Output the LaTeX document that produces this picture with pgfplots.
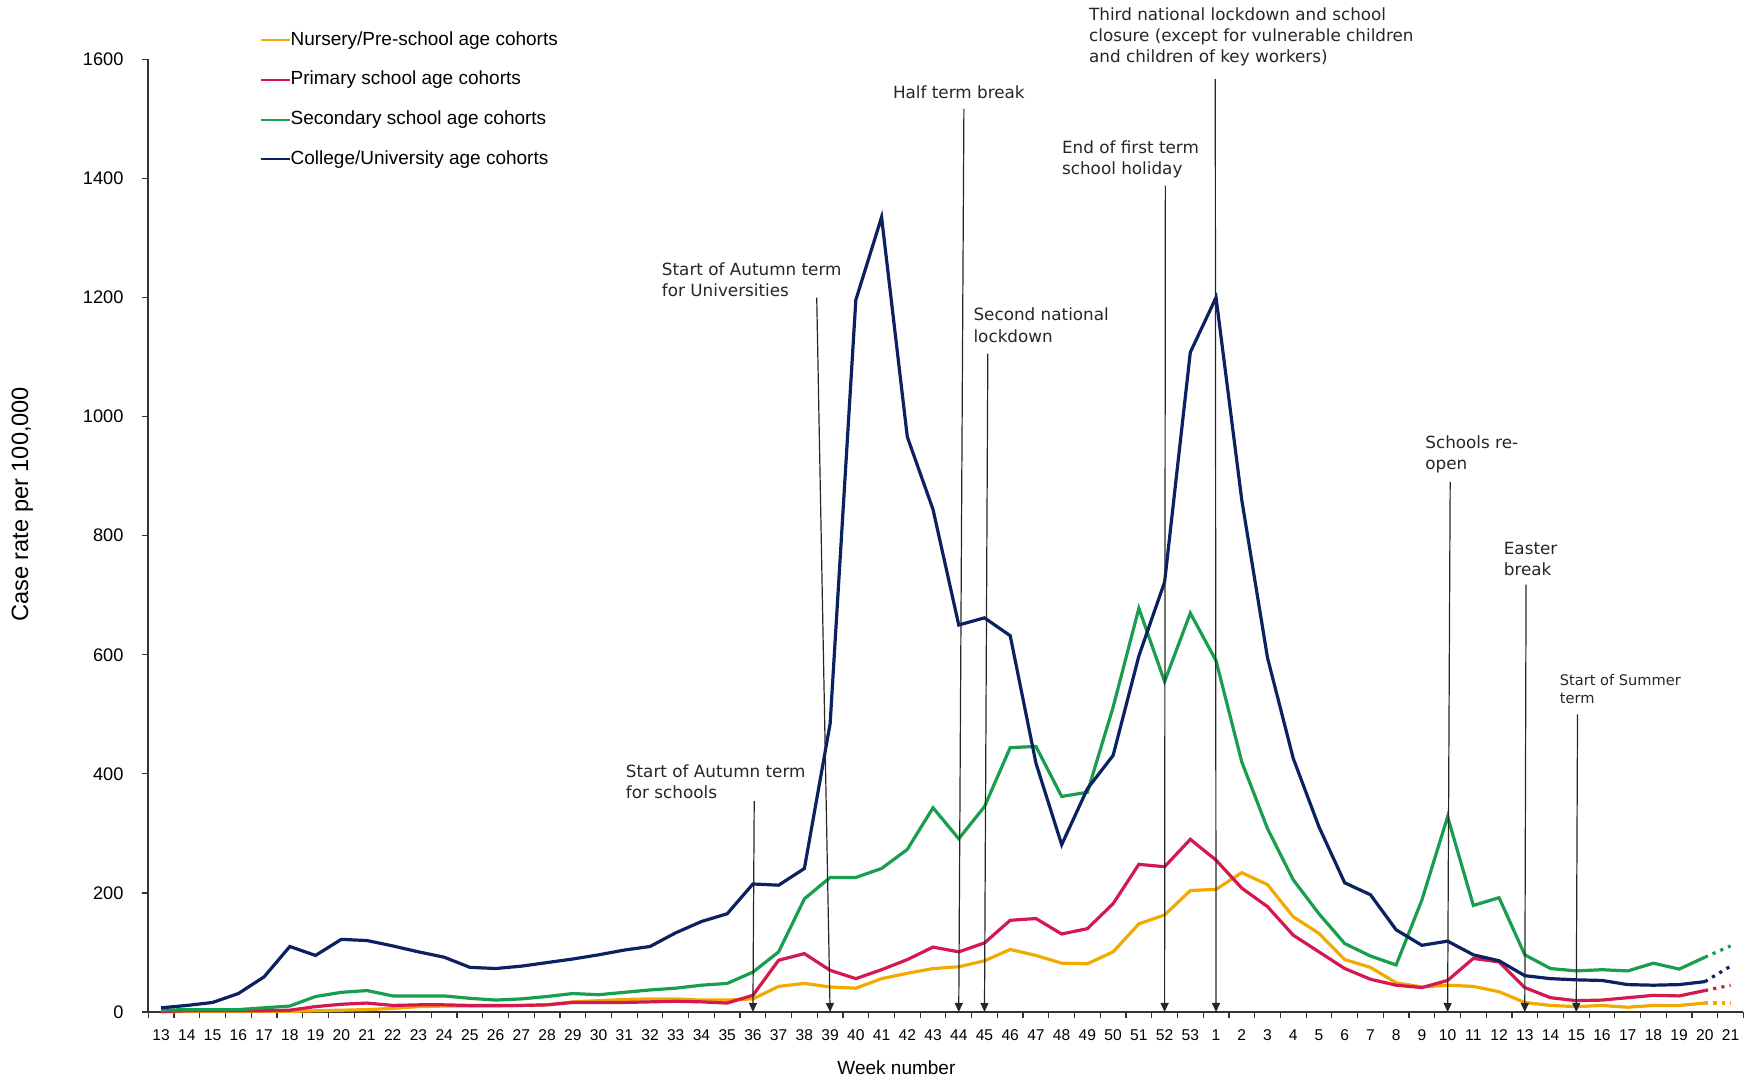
\documentclass[border=0pt]{standalone}
\usepackage{fontspec}
\setmainfont{Liberation Sans}
\newfontfamily\annfont{DejaVu Sans}
\usepackage{pgfplots}
\pgfplotsset{compat=1.18}
\usetikzlibrary{arrows.meta}
\definecolor{cnur}{RGB}{242,169,0}
\definecolor{cpri}{RGB}{212,25,81}
\definecolor{csec}{RGB}{25,158,80}
\definecolor{ccol}{RGB}{12,33,98}
\tikzset{
  annline/.style={draw=black!85, line width=0.6pt, -{Triangle[length=4.5pt,width=4pt]}},
  anntext/.style={font=\annfont\fontsize{8.4}{10.6}\selectfont, align=left, inner sep=0pt, anchor=north west, text=black!85},
}
\begin{document}
\begin{tikzpicture}
\begin{axis}[
  scale only axis, width=797.6pt, height=476.3pt,
  xmin=-0.5, xmax=61.5, ymin=0, ymax=1600,
  clip=false,
  axis x line*=bottom, axis y line*=left,
  axis line style={line width=0.8pt, black!80},
  xtick={-0.5,0.5,...,61.5},
  x tick label as interval,
  xticklabels={13,14,15,16,17,18,19,20,21,22,23,24,25,26,27,28,29,30,31,32,33,34,35,36,37,38,39,40,41,42,43,44,45,46,47,48,49,50,51,52,53,1,2,3,4,5,6,7,8,9,10,11,12,13,14,15,16,17,18,19,20,21},
  ytick={0,200,...,1600},
  tick align=outside, major tick length=3pt,
  tick style={line width=0.6pt, black!80},
  /pgf/number format/assume math mode=true,
  /pgf/number format/1000 sep={},
  x tick label style={font=\fontsize{7.8}{9}\selectfont, yshift=-2.5pt},
  y tick label style={font=\fontsize{9.1}{11}\selectfont, xshift=-5.9pt},
  xlabel={Week number},
  xlabel style={font=\fontsize{9.5}{11}\selectfont, at={(axis description cs:0.469,0)}, anchor=center, yshift=-28pt},
  ylabel={Case rate per 100,000},
  ylabel style={font=\fontsize{11.8}{14}\selectfont, at={(axis description cs:-0.0789,0.533)}, anchor=center},
  legend style={draw=none, fill=none, at={(rel axis cs:0,1)}, anchor=north west,
    xshift=55.5pt, yshift=14.35pt, font=\fontsize{9.5}{11}\selectfont, row sep=10.9pt,
    inner sep=0pt, nodes={inner sep=0pt, text height=7pt, text depth=2pt}},
  legend cell align=left,
  legend image code/.code={\draw[#1, line width=1pt] (0pt,0pt) -- (14.5pt,0pt);},
  every axis plot/.append style={line width=1.6pt},
]
\addplot[cnur] coordinates {(0,0)(1,1)(2,1)(3,1)(4,1)(5,1)(6,2)(7,3)(8,4)(9,6)(10,9)(11,10)(12,10)(13,10)(14,11)(15,12)(16,17)(17,19)(18,21)(19,22)(20,22)(21,20)(22,20)(23,22)(24,43)(25,48)(26,42)(27,40)(28,56)(29,65)(30,73)(31,76)(32,86)(33,105)(34,95)(35,82)(36,81)(37,101)(38,148)(39,163)(40,204)(41,206)(42,234)(43,214)(44,160)(45,132)(46,88)(47,75)(48,49)(49,42)(50,45)(51,43)(52,34)(53,16)(54,11)(55,9)(56,11)(57,8)(58,11)(59,11)(60,15)};
\addlegendentry{Nursery/Pre-school age cohorts}
\addplot[cpri] coordinates {(0,1)(1,2)(2,2)(3,2)(4,2)(5,3)(6,9)(7,13)(8,15)(9,11)(10,12)(11,12)(12,11)(13,11)(14,11)(15,12)(16,16)(17,16)(18,16)(19,17)(20,18)(21,17)(22,15)(23,28)(24,87)(25,98)(26,70)(27,56)(28,71)(29,88)(30,109)(31,101)(32,116)(33,154)(34,157)(35,131)(36,140)(37,182)(38,248)(39,244)(40,290)(41,255)(42,208)(43,177)(44,129)(45,101)(46,73)(47,55)(48,45)(49,41)(50,53)(51,90)(52,84)(53,41)(54,24)(55,19)(56,20)(57,24)(58,28)(59,27)(60,36)};
\addlegendentry{Primary school age cohorts}
\addplot[csec] coordinates {(0,3)(1,4)(2,4)(3,4)(4,7)(5,10)(6,26)(7,33)(8,36)(9,27)(10,27)(11,27)(12,23)(13,20)(14,22)(15,26)(16,31)(17,29)(18,33)(19,37)(20,40)(21,45)(22,48)(23,67)(24,101)(25,190)(26,226)(27,226)(28,241)(29,273)(30,343)(31,291)(32,345)(33,444)(34,446)(35,362)(36,369)(37,512)(38,678)(39,555)(40,670)(41,590)(42,420)(43,308)(44,222)(45,165)(46,115)(47,94)(48,79)(49,188)(50,328)(51,179)(52,192)(53,96)(54,73)(55,69)(56,71)(57,69)(58,82)(59,72)(60,92)};
\addlegendentry{Secondary school age cohorts}
\addplot[ccol] coordinates {(0,7)(1,11)(2,16)(3,31)(4,59)(5,110)(6,95)(7,122)(8,120)(9,111)(10,101)(11,92)(12,75)(13,73)(14,77)(15,83)(16,89)(17,96)(18,104)(19,110)(20,133)(21,152)(22,165)(23,215)(24,213)(25,241)(26,484)(27,1196)(28,1335)(29,966)(30,844)(31,650)(32,662)(33,632)(34,418)(35,281)(36,375)(37,431)(38,598)(39,722)(40,1108)(41,1200)(42,860)(43,595)(44,426)(45,311)(46,217)(47,197)(48,138)(49,112)(50,119)(51,96)(52,86)(53,61)(54,56)(55,54)(56,53)(57,46)(58,45)(59,46)(60,51)};
\addlegendentry{College/University age cohorts}
\addplot[cnur, forget plot, dash pattern=on 1.6pt off 2.6pt] coordinates {(60,15)(61,15)};
\addplot[cpri, forget plot, dash pattern=on 1.6pt off 2.6pt] coordinates {(60,36)(61,45)};
\addplot[csec, forget plot, dash pattern=on 1.6pt off 2.6pt] coordinates {(60,92)(61,111)};
\addplot[ccol, forget plot, dash pattern=on 1.6pt off 2.6pt] coordinates {(60,51)(61,77)};
% annotations
\draw[annline] (axis cs:23.05,354) -- (axis cs:23,0);
\node[anntext] at (axis cs:18.05,416) {Start of Autumn term\\for schools};
\draw[annline] (axis cs:25.48,1200) -- (axis cs:26,0);
\node[anntext] at (axis cs:19.45,1259) {Start of Autumn term\\for Universities};
\draw[annline] (axis cs:31.2,1517) -- (axis cs:31,0);
\node[anntext] at (axis cs:28.43,1556) {Half term break};
\draw[annline] (axis cs:32.13,1106) -- (axis cs:32,0);
\node[anntext] at (axis cs:31.56,1183) {Second national\\lockdown};
\draw[annline] (axis cs:39.03,1388) -- (axis cs:39,0);
\node[anntext] at (axis cs:35.0,1464) {End of first term\\school holiday};
\draw[annline] (axis cs:40.97,1567) -- (axis cs:41,0);
\node[anntext] at (axis cs:36.05,1688) {Third national lockdown and school\\closure (except for vulnerable children\\and children of key workers)};
\draw[annline] (axis cs:50.1,890) -- (axis cs:50,0);
\node[anntext] at (axis cs:49.12,969) {Schools re-\\open};
\draw[annline] (axis cs:53.05,718) -- (axis cs:53,0);
\node[anntext] at (axis cs:52.17,790) {Easter\\break};
\draw[annline] (axis cs:55.05,500) -- (axis cs:55,0);
\node[anntext, font=\annfont\fontsize{7.3}{9}\selectfont] at (axis cs:54.35,568) {Start of Summer\\term};
\coordinate (O) at (rel axis cs:0,0);
\end{axis}
\path (O) ++(-74.15pt,-34.5pt) rectangle ++(879pt,540.5pt);
\end{tikzpicture}
\end{document}
